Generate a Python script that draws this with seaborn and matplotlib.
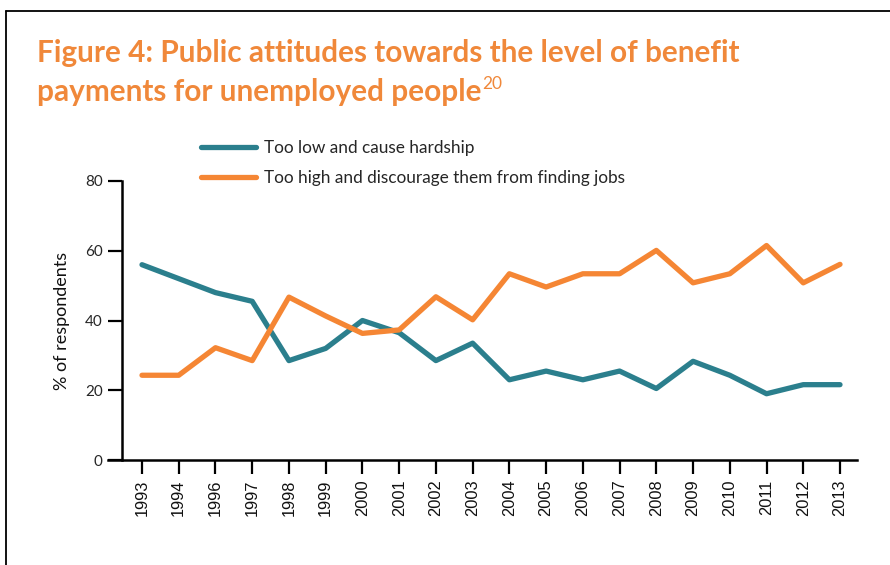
import matplotlib
matplotlib.use("Agg")
import matplotlib.pyplot as plt
import seaborn as sns
import pandas as pd
from matplotlib.lines import Line2D

years = ["1993", "1994", "1996", "1997", "1998", "1999", "2000", "2001", "2002", "2003",
         "2004", "2005", "2006", "2007", "2008", "2009", "2010", "2011", "2012", "2013"]
too_low = [56, 52, 48, 45.5, 28.5, 32, 40, 36.5, 28.5, 33.5,
           23, 25.5, 23, 25.5, 20.5, 28.3, 24.3, 19, 21.6, 21.6]
too_high = [24.3, 24.3, 32.2, 28.5, 46.7, 41.3, 36.3, 37.3, 46.8, 40.2,
            53.4, 49.6, 53.4, 53.4, 60.1, 50.8, 53.4, 61.5, 50.8, 56.1]
series_names = ["Too low and cause hardship", "Too high and discourage them from finding jobs"]
colors = ["#2B7F8D", "#F58634"]
title_line1 = "Figure 4: Public attitudes towards the level of benefit"
title_line2 = "payments for unemployed people"
footnote = "20"
ylabel = "% of respondents"
yticks = [0, 20, 40, 60, 80]

df = pd.DataFrame({
    "year": years * 2,
    "value": too_low + too_high,
    "series": [series_names[0]] * len(years) + [series_names[1]] * len(years),
})

sns.set_theme(style="white")
plt.rcParams["font.family"] = ["Lato", "DejaVu Sans"]

W, H = 890, 565
fig = plt.figure(figsize=(W / 100, H / 100), dpi=100)
ax = fig.add_axes([108 / W, 1 - 460 / H, (857 - 108) / W, (460 - 181) / H])

sns.lineplot(data=df, x="year", y="value", hue="series", palette=colors,
             linewidth=3.8, ax=ax, legend=False, sort=False)

sp = 36.74
ax.set_xlim(-(142 - 108) / sp, 19 + (857 - 840) / sp)
ax.set_ylim(0, 80)
ax.set_yticks(yticks)
ax.set_yticklabels([str(v) for v in yticks], fontsize=14, color="#111111")
ax.set_xticks(range(len(years)))
ax.set_xticklabels(years, rotation=90, fontsize=11.8, color="#111111",
                   family=["Liberation Sans", "DejaVu Sans"])
ax.set_xlabel("")
ax.set_ylabel(ylabel, fontsize=13, color="#111111")
ax.yaxis.set_label_coords((70 - 108) / (857 - 108), 0.5)

for s in ["top", "right"]:
    ax.spines[s].set_visible(False)
ax.spines["left"].set_position(("data", -(142 - 122) / sp))
ax.spines["left"].set_bounds(0, 80)
for s in ["left", "bottom"]:
    ax.spines[s].set_color("black")
    ax.spines[s].set_linewidth(1.8)
ax.tick_params(axis="both", which="both", direction="out", length=10, width=1.6,
               color="black", left=True, bottom=True)
ax.tick_params(axis="x", pad=4)
ax.tick_params(axis="y", pad=4)

handles = [Line2D([0], [0], color=c, lw=3.8, solid_capstyle="round") for c in colors]
fig.legend(handles, series_names, loc="upper left", bbox_to_anchor=(201 / W, 1 - 140 / H),
           frameon=False, fontsize=12.4, handlelength=3.2, handletextpad=0.45,
           labelspacing=0.8, borderaxespad=0, borderpad=0)

# Title
title_color = "#F0883A"
fig.text(37 / W, 1 - 53 / H, title_line1, fontsize=21.4, fontweight="bold",
         color=title_color, va="center", ha="left")
t2 = fig.text(37 / W, 1 - 92 / H, title_line2, fontsize=21.4, fontweight="bold",
              color=title_color, va="center", ha="left")
fig.canvas.draw()
bb = t2.get_window_extent()
fig.text(bb.x1 / (W) + 1 / W, 1 - 84 / H, footnote, fontsize=12.5, color=title_color,
         va="center", ha="left")

# page frame
fig.add_artist(Line2D([6 / W, 1], [1 - 11 / H, 1 - 11 / H], color="black", lw=1.3,
                      transform=fig.transFigure))
fig.add_artist(Line2D([6 / W, 6 / W], [0, 1 - 11 / H], color="black", lw=1.3,
                      transform=fig.transFigure))

fig.savefig("out.png", dpi=100)
